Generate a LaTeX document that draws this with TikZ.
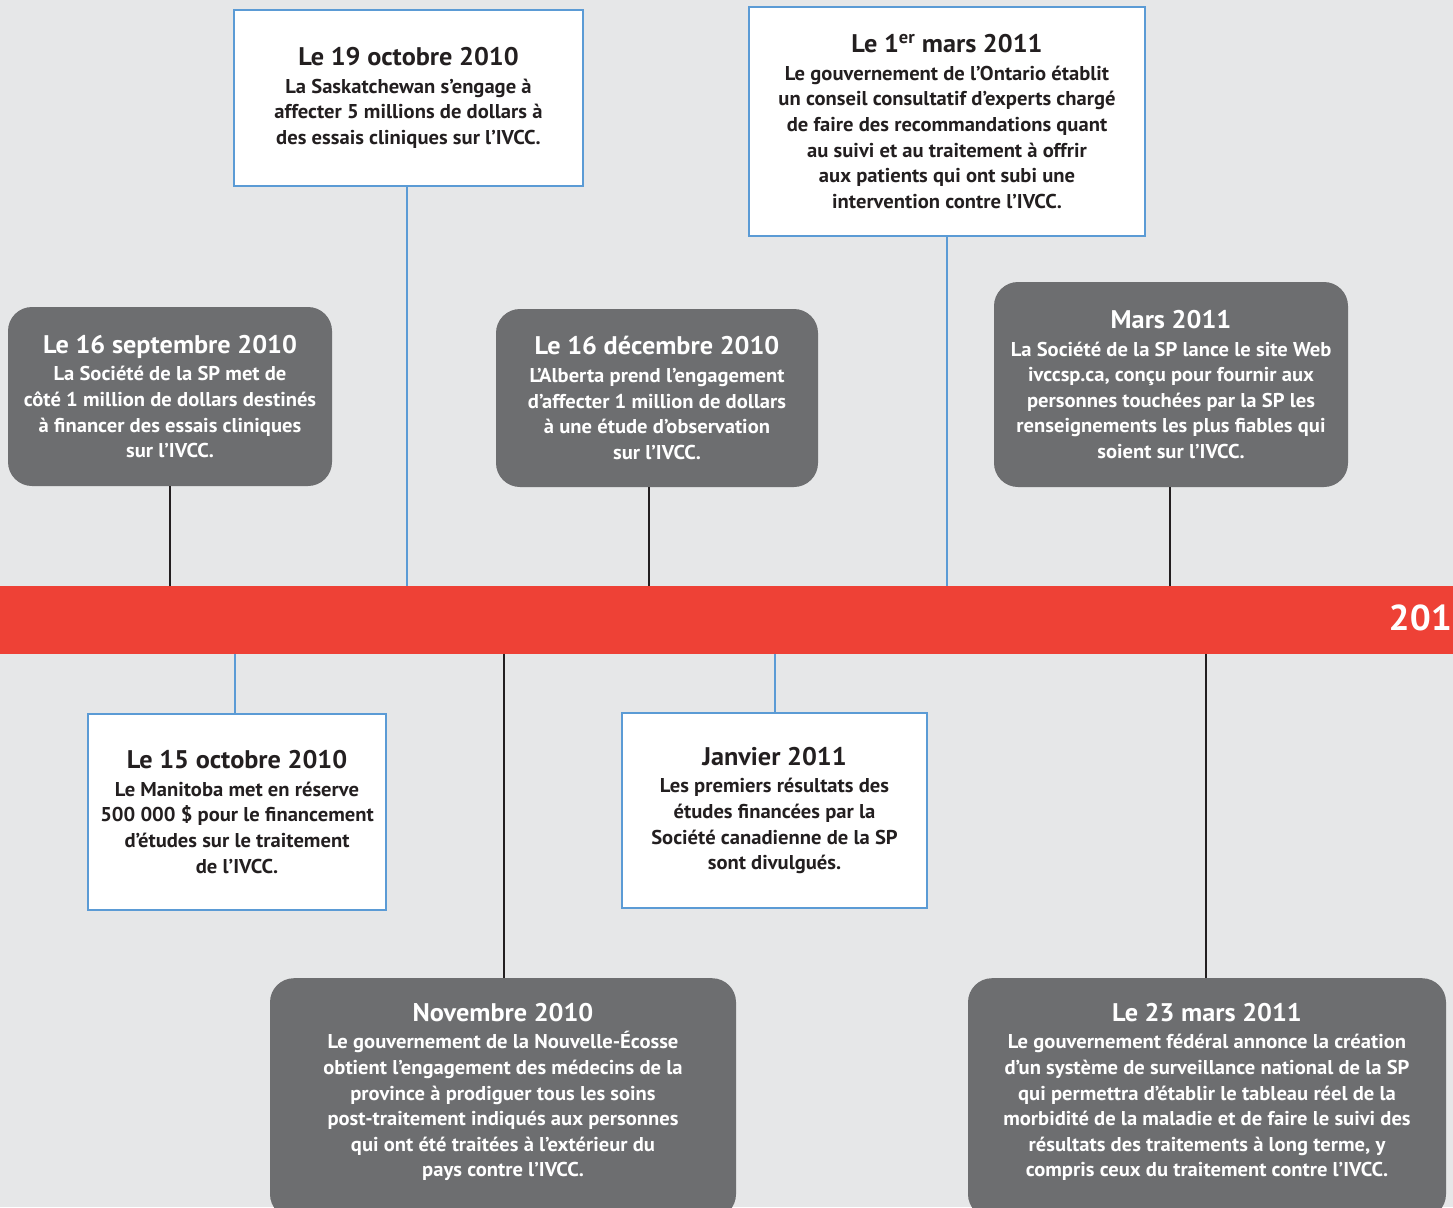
\documentclass[tikz,border=0pt]{standalone}
\usepackage{fontspec}
\setmainfont{PT Sans}[FakeStretch=1.03]
\definecolor{bgc}{HTML}{E6E7E8}
\definecolor{darkc}{HTML}{6D6E70}
\definecolor{redc}{HTML}{EE4136}
\definecolor{bluec}{HTML}{5B9BD5}
\definecolor{inkc}{HTML}{231F20}
\newcommand{\ttl}[1]{{\fontsize{25.5}{30}\selectfont #1}}
\tikzset{
  darkbox/.style={fill=darkc, rounded corners=24pt, text=white, align=center,
    font=\fontsize{20}{25.6}\selectfont\bfseries, inner sep=0pt},
  whitebox/.style={fill=white, draw=bluec, line width=2.5pt, text=inkc, align=center,
    font=\fontsize{20}{25.6}\selectfont\bfseries, inner sep=0pt},
  txt/.style={align=center, font=\fontsize{20}{25.6}\selectfont\bfseries, inner sep=0pt},
  blackline/.style={draw=inkc, line width=1.3pt},
  blueline/.style={draw=bluec, line width=1.3pt},
}
\begin{document}
\begin{tikzpicture}[x=1pt,y=-1pt]
\useasboundingbox (0,0) rectangle (1453,1207);
\fill[bgc] (0,0) rectangle (1453,1207);
\clip (0,0) rectangle (1453,1207);

% timeline bar
\node[fill=redc, minimum width=1460pt, minimum height=68pt, inner sep=0pt, anchor=north west] (bar) at (0,586) {};
\node[text=white, font=\fontsize{36}{40}\selectfont\bfseries, anchor=east, inner sep=0pt] (yr) at (1452,618) {201};

% upper boxes
\node[darkbox, minimum width=324pt, minimum height=179pt] (b1) at (170,396.5)
 {\ttl{Le 16 septembre 2010}\\[2pt]La Société de la SP met de\\côté 1 million de dollars destinés\\à financer des essais cliniques\\sur l’IVCC.};
\node[whitebox, minimum width=349pt, minimum height=176pt] (b2) at (408.5,98)
 {\ttl{Le 19 octobre 2010}\\[2pt]La Saskatchewan s’engage à\\affecter 5 millions de dollars à\\des essais cliniques sur l’IVCC.};
\node[darkbox, minimum width=322pt, minimum height=178pt] (b3) at (657,398)
 {\ttl{Le 16 décembre 2010}\\[2pt]L’Alberta prend l’engagement\\d’affecter 1 million de dollars\\à une étude d’observation\\sur l’IVCC.};
\node[whitebox, minimum width=396pt, minimum height=229pt] (b4) at (947,121.5)
 {\ttl{Le 1\textsuperscript{er} mars 2011}\\[2pt]Le gouvernement de l’Ontario établit\\un conseil consultatif d’experts chargé\\de faire des recommandations quant\\au suivi et au traitement à offrir\\aux patients qui ont subi une\\intervention contre l’IVCC.};
\node[darkbox, minimum width=354pt, minimum height=205pt] (b5) at (1171,384.5)
 {\ttl{Mars 2011}\\[2pt]La Société de la SP lance le site Web\\ivccsp.ca, conçu pour fournir aux\\personnes touchées par la SP les\\renseignements les plus fiables qui\\soient sur l’IVCC.};

% lower boxes
\node[whitebox, minimum width=298pt, minimum height=196pt] (b6) at (237,812)
 {\ttl{Le 15 octobre 2010}\\[2pt]Le Manitoba met en réserve\\500 000 \$ pour le financement\\d’études sur le traitement\\de l’IVCC.};
\node[whitebox, minimum width=305pt, minimum height=195pt] (b8) at (774.5,810.5)
 {\ttl{Janvier 2011}\\[2pt]Les premiers résultats des\\études financées par la\\Société canadienne de la SP\\sont divulgués.};
\node[darkbox, minimum width=466pt, minimum height=240pt, anchor=north] (b7) at (503,978) {};
\node[txt, text=white] (t7) at (503,1092)
 {\ttl{Novembre 2010}\\[2pt]Le gouvernement de la Nouvelle-Écosse\\obtient l’engagement des médecins de la\\province à prodiguer tous les soins\\post-traitement indiqués aux personnes\\qui ont été traitées à l’extérieur du\\pays contre l’IVCC.};
\node[darkbox, minimum width=478pt, minimum height=240pt, anchor=north] (b9) at (1207,978) {};
\node[txt, text=white] (t9) at (1207,1092)
 {\ttl{Le 23 mars 2011}\\[2pt]Le gouvernement fédéral annonce la création\\d’un système de surveillance national de la SP\\qui permettra d’établir le tableau réel de la\\morbidité de la maladie et de faire le suivi des\\résultats des traitements à long terme, y\\compris ceux du traitement contre l’IVCC.};

% connectors
\draw[blackline] (b1.south) -- (b1.south |- bar.north);
\draw[blueline] ([xshift=-1.5pt]b2.south) -- ([xshift=-1.5pt]b2.south |- bar.north);
\draw[blackline] ([xshift=-8pt]b3.south) -- ([xshift=-8pt]b3.south |- bar.north);
\draw[blueline] (b4.south) -- (b4.south |- bar.north);
\draw[blackline] ([xshift=-1pt]b5.south) -- ([xshift=-1pt]b5.south |- bar.north);
\draw[blueline] ([xshift=-2pt]b6.north) -- ([xshift=-2pt]b6.north |- bar.south);
\draw[blackline] ([xshift=1pt]b7.north) -- ([xshift=1pt]b7.north |- bar.south);
\draw[blueline] ([xshift=0.5pt]b8.north) -- ([xshift=0.5pt]b8.north |- bar.south);
\draw[blackline] ([xshift=-1pt]b9.north) -- ([xshift=-1pt]b9.north |- bar.south);
\end{tikzpicture}
\end{document}
